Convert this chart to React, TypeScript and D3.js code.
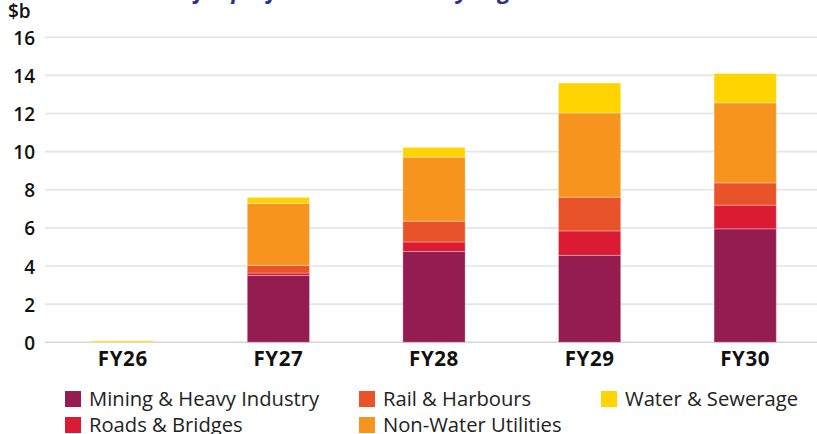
import React from "react";
import * as d3 from "d3";

const years = ["FY26", "FY27", "FY28", "FY29", "FY30"];
const segments = [
  "Mining & Heavy Industry",
  "Roads & Bridges",
  "Rail & Harbours",
  "Non-Water Utilities",
  "Water & Sewerage",
];
const colors = ["#941C51", "#DB1A33", "#E9532A", "#F6941F", "#FFD400"];
const mining = [0, 3.5, 4.76, 4.56, 5.95];
const roads = [0, 0.13, 0.5, 1.28, 1.24];
const rail = [0, 0.4, 1.09, 1.77, 1.17];
const nonWater = [0, 3.25, 3.36, 4.42, 4.2];
const water = [0.07, 0.32, 0.51, 1.57, 1.54];
const yTicks = [0, 2, 4, 6, 8, 10, 12, 14, 16];
const title = "Major project investment by segment and sector";

const W = 817;
const H = 434;
const FONT = "'Open Sans', 'Noto Sans', sans-serif";

export default function App() {
  const series = [mining, roads, rail, nonWater, water];
  const rows = years.map((y, i) => {
    const r: Record<string, any> = { year: y };
    segments.forEach((s, k) => (r[s] = series[k][i]));
    return r;
  });
  const stacked = d3.stack<any>().keys(segments)(rows);

  const x = d3
    .scaleBand<string>()
    .domain(years)
    .range([45, 823])
    .paddingInner(0.6)
    .paddingOuter(0.3);
  const y = d3.scaleLinear().domain([0, 16]).range([342.2, 37.3]);

  const legendCols = [65, 359, 601];
  const legendRows = [399, 425];

  return (
    <svg
      width={W}
      height={H}
      style={{ position: "absolute", left: 0, top: 0, background: "#fff" }}
      fontFamily={FONT}
    >
      <text
        x={425}
        y={-2.5}
        textAnchor="middle"
        fontSize={23}
        fontWeight={700}
        fontStyle="italic"
        fill="#2E3192"
      >
        {title}
      </text>
      <text x={8} y={18} fontSize={19} fontWeight={600} fill="#111">
        $b
      </text>
      {yTicks.map((t) => (
        <g key={t}>
          <line
            x1={45}
            x2={W}
            y1={y(t)}
            y2={y(t)}
            stroke={t === 0 ? "#d6d6d6" : "#e4e4e4"}
            strokeWidth={1.6}
          />
          <text
            x={35}
            y={y(t)}
            dy="0.4em"
            textAnchor="end"
            fontSize={19}
            fontWeight={600}
            fill="#111"
          >
            {t}
          </text>
        </g>
      ))}
      {stacked.map((s, k) => (
        <g key={s.key} fill={colors[k]}>
          {s.map((d, i) =>
            d[1] - d[0] > 0 ? (
              <rect
                key={i}
                x={x(years[i])}
                width={x.bandwidth()}
                y={y(d[1])}
                height={Math.max(0, y(d[0]) - y(d[1]))}
                stroke="#ffffff"
                strokeOpacity={0.3}
                strokeWidth={1}
              />
            ) : null
          )}
        </g>
      ))}
      {years.map((yr) => (
        <text
          key={yr}
          x={(x(yr) as number) + x.bandwidth() / 2}
          y={359}
          dy="0.35em"
          textAnchor="middle"
          fontSize={20.5}
          fontWeight={700}
          letterSpacing={0.6}
          fill="#111"
        >
          {yr}
        </text>
      ))}
      {segments.map((s, k) => {
        const col = Math.floor(k / 2);
        const row = k % 2;
        return (
          <g key={s} transform={`translate(${legendCols[col]},${legendRows[row]})`}>
            <rect x={0} y={-8} width={16} height={16} fill={colors[k]} />
            <text x={24} y={0} dy="0.35em" fontSize={20.2} fontWeight={400} fill="#222">
              {s}
            </text>
          </g>
        );
      })}
    </svg>
  );
}
